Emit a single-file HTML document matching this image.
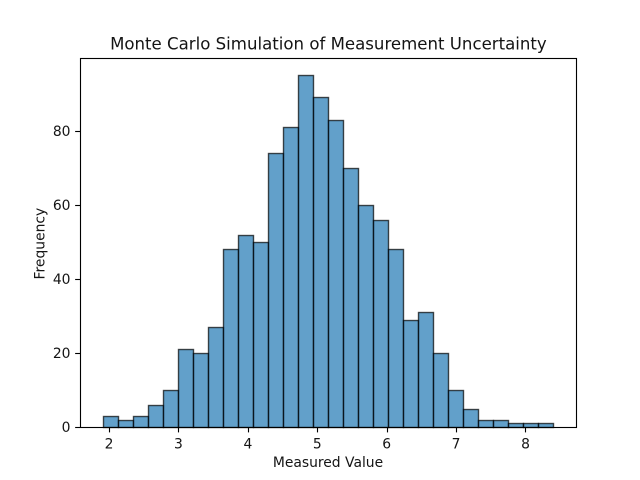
<!DOCTYPE html>
<html>
<head>
<meta charset="utf-8">
<style>
html,body{margin:0;padding:0;background:#fff;width:640px;height:480px;overflow:hidden}
svg{display:block}
text{font-family:"DejaVu Sans","Liberation Sans",sans-serif;fill:#000;fill-opacity:.92}
</style>
</head>
<body>
<svg id="chart" xmlns="http://www.w3.org/2000/svg" width="640" height="480" viewBox="0 0 640 480">
<rect x="0" y="0" width="640" height="480" fill="#fff"/>
<g id="bars"></g>
<g id="xticks"></g>
<g id="yticks"></g>
<rect x="80.5" y="58.5" width="496" height="369" fill="none" stroke="#000" stroke-width="1.11"/>
<text x="328.4" y="49.3" font-size="16.6" text-anchor="middle">Monte Carlo Simulation of Measurement Uncertainty</text>
<text x="328" y="467" font-size="13.89" text-anchor="middle">Measured Value</text>
<text x="0" y="0" font-size="13.89" text-anchor="middle" transform="translate(44.5 243.6) rotate(-90)">Frequency</text>
</svg>
<script>
const counts = [3,2,3,6,10,21,20,27,48,52,50,74,81,95,89,83,70,60,56,48,29,31,20,10,5,2,2,1,1,1];
const firstEdge = 1.906;
const lastEdge = 8.403;
const xTickLabels = [2,3,4,5,6,7,8];
const yTickLabels = [0,20,40,60,80];

const NS = 'http://www.w3.org/2000/svg';
const left = 80, right = 576, top_ = 57.6, bottom = 427.2;
const xMargin = (lastEdge - firstEdge) * 0.05;
const xLo = firstEdge - xMargin, xHi = lastEdge + xMargin;
const yHi = Math.max(...counts) * 1.05;
function snap(p){ return Math.floor(p + 0.5) + 0.5; }
function xScale(v){ return left + (v - xLo) / (xHi - xLo) * (right - left); }
function yScale(v){ return bottom - v / yHi * (bottom - top_); }

const barsG = document.getElementById('bars');
const binWidth = (lastEdge - firstEdge) / counts.length;
counts.forEach(function(c, i){
  const x0 = snap(xScale(firstEdge + i * binWidth));
  const x1 = snap(xScale(firstEdge + (i + 1) * binWidth));
  const y = snap(yScale(c));
  const y0 = snap(yScale(0));
  const r = document.createElementNS(NS, 'rect');
  r.setAttribute('x', x0);
  r.setAttribute('y', y);
  r.setAttribute('width', x1 - x0);
  r.setAttribute('height', y0 - y);
  r.setAttribute('fill', 'rgba(31,119,180,0.7)');
  r.setAttribute('stroke', 'rgba(0,0,0,0.7)');
  r.setAttribute('stroke-width', '1.39');
  
  
  barsG.appendChild(r);
});

const xG = document.getElementById('xticks');
xTickLabels.forEach(function(v){
  const x = snap(xScale(v));
  const l = document.createElementNS(NS, 'line');
  l.setAttribute('x1', x);
  l.setAttribute('x2', x);
  l.setAttribute('y1', bottom);
  l.setAttribute('y2', bottom + 5.2);
  l.setAttribute('stroke', '#000');
  l.setAttribute('stroke-width', '1.11');
  
  
  xG.appendChild(l);
  const t = document.createElementNS(NS, 'text');
  t.setAttribute('x', xScale(v));
  t.setAttribute('y', 448.6);
  t.setAttribute('font-size', '13.89');
  t.setAttribute('text-anchor', 'middle');
  
  
  t.textContent = v;
  xG.appendChild(t);
});

const yG = document.getElementById('yticks');
yTickLabels.forEach(function(v){
  const y = snap(yScale(v));
  const l = document.createElementNS(NS, 'line');
  l.setAttribute('x1', left - 4.86);
  l.setAttribute('x2', left);
  l.setAttribute('y1', y);
  l.setAttribute('y2', y);
  l.setAttribute('stroke', '#000');
  l.setAttribute('stroke-width', '1.11');
  
  
  yG.appendChild(l);
  const t = document.createElementNS(NS, 'text');
  t.setAttribute('x', 70.5);
  t.setAttribute('y', y + 4.7);
  t.setAttribute('font-size', '13.89');
  t.setAttribute('text-anchor', 'end');
  
  
  t.textContent = v;
  yG.appendChild(t);
});
</script>
</body>
</html>
